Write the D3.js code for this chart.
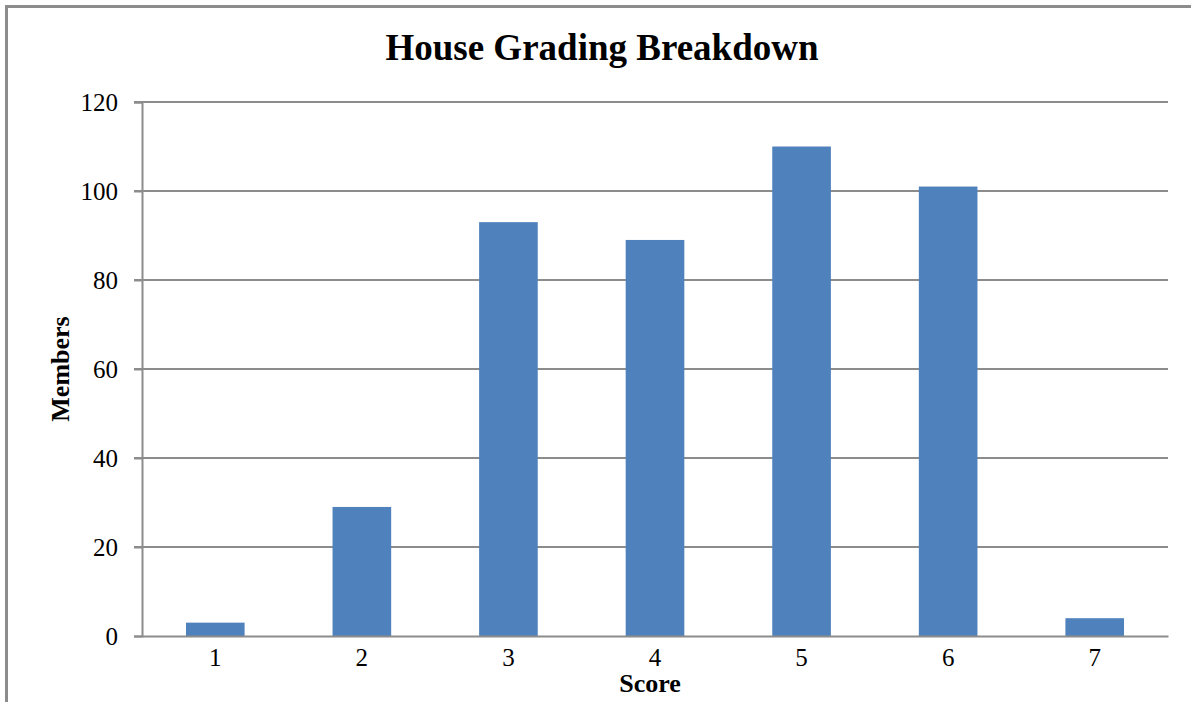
<!DOCTYPE html>
<html><head><meta charset="utf-8">
<script src="https://cdn.jsdelivr.net/npm/d3@7"></script>
<style>body{margin:0;background:#fff;}svg{display:block;}</style>
</head><body>
<svg id="c" width="1191" height="702"></svg>
<script>
const categories = ["1","2","3","4","5","6","7"];
const values = [3, 29, 93, 89, 110, 101, 4];
const yTicks = [0, 20, 40, 60, 80, 100, 120];
const title = "House Grading Breakdown";
const xTitle = "Score";
const yTitle = "Members";

const svg = d3.select("#c");
const font = "'Liberation Serif','Times New Roman',serif";
const grey = "#8c8c8c";

// frame (top and left edges)
svg.append("line").attr("x1",6.5).attr("x2",1191).attr("y1",6.5).attr("y2",6.5).attr("stroke",grey).attr("stroke-width",3);
svg.append("line").attr("x1",6.5).attr("x2",6.5).attr("y1",5).attr("y2",702).attr("stroke",grey).attr("stroke-width",3);

const m = {left:142, right:1168, top:102, bottom:636};
const x = d3.scaleBand().domain(categories).range([m.left, m.right]).paddingInner(0.6).paddingOuter(0.3);
const y = d3.scaleLinear().domain([0,120]).range([m.bottom, m.top]);

// gridlines
svg.append("g").selectAll("line").data(yTicks.filter(d=>d>0)).join("line")
  .attr("x1",m.left-8).attr("x2",m.right).attr("y1",d=>y(d)).attr("y2",d=>y(d))
  .attr("stroke",grey).attr("stroke-width",2);

// y axis
const ya = svg.append("g").attr("transform",`translate(${m.left},0)`)
  .call(d3.axisLeft(y).tickValues(yTicks).tickSize(8).tickPadding(16));
ya.select(".domain").attr("stroke",grey).attr("stroke-width",2);
ya.selectAll(".tick line").attr("stroke",grey).attr("stroke-width",2);
ya.selectAll("text").attr("font-family",font).attr("font-size",25).attr("fill","#000");

// bars
svg.append("g").selectAll("rect").data(values).join("rect")
  .attr("x",(d,i)=>x(categories[i])).attr("width",x.bandwidth())
  .attr("y",d=>y(d)).attr("height",d=>y(0)-y(d))
  .attr("fill","#4F81BD");

// x axis
const xa = svg.append("g").attr("transform",`translate(0,${m.bottom})`)
  .call(d3.axisBottom(x).tickSize(0).tickPadding(12));
xa.select(".domain").attr("stroke",grey).attr("stroke-width",2);
xa.selectAll("text").attr("font-family",font).attr("font-size",25).attr("fill","#000");

// titles
svg.append("text").attr("x",602).attr("y",60).attr("text-anchor","middle")
  .attr("font-family",font).attr("font-weight","bold").attr("font-size",37).text(title);
svg.append("text").attr("x",650).attr("y",692).attr("text-anchor","middle")
  .attr("font-family",font).attr("font-weight","bold").attr("font-size",26).text(xTitle);
svg.append("text").attr("transform","translate(69,369) rotate(-90)").attr("text-anchor","middle")
  .attr("font-family",font).attr("font-weight","bold").attr("font-size",26).text(yTitle);
</script>
</body></html>
